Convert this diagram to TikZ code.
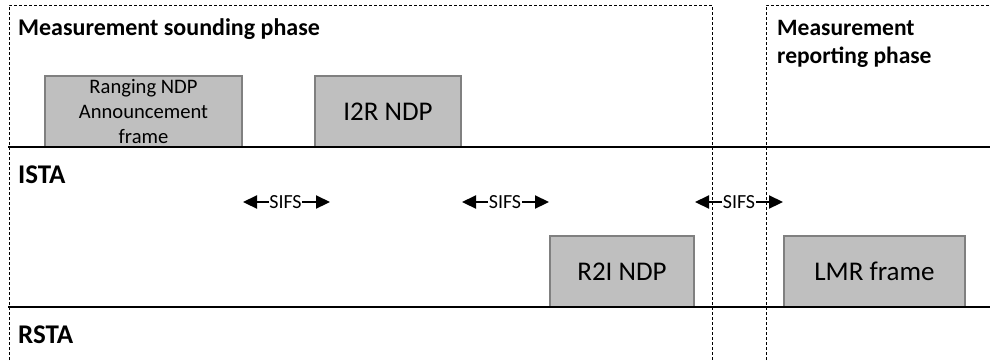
\documentclass[tikz,border=0pt]{standalone}
\usepackage{fontspec}
\setmainfont{Carlito}
\usetikzlibrary{arrows.meta}
\begin{document}
\begin{tikzpicture}
  [ x=1pt, y=-1pt,
    frm/.style={draw=black!50, fill=black!25, line width=2pt, inner sep=0pt,
    font=\fontsize{27}{33}\selectfont},
    phase/.style={line width=0.8pt, dash pattern=on 3pt off 2pt},
    sta/.style={line width=2pt},
    gap/.style={line width=2.2pt, -{Triangle[length=14pt,width=13pt]}},
    lbl/.style={anchor=base west, inner sep=0pt, font=\fontsize{27}{33}\selectfont\bfseries},
    sifs/.style={inner sep=0.5pt, font=\fontsize{20}{24}\selectfont}
  ]
  \useasboundingbox (0,0) rectangle (990,360);

  % frames
  \node (ranging) at (143.5,111.5) [frm, minimum width=197, minimum height=71,
    align=center, font=\fontsize{20.6}{24.8}\selectfont]
    {Ranging NDP\\Announcement\\frame};
  \node (i2r) at (388,111.5) [frm, minimum width=146, minimum height=71] {I2R NDP};
  \node (r2i) at (622,271.5) [frm, minimum width=144, minimum height=71] {R2I NDP};
  \node (lmr) at (874.5,271.5) [frm, minimum width=181, minimum height=71] {LMR frame};

  % phases
  \draw [phase] (9,360) -- (9,5) -- (712,5) -- (712,360);
  \draw [phase] (766,360) -- (766,5) -- (990,5);

  % stations
  \draw [sta] (8,147) -- (990,147);
  \draw [sta] (8,307) -- (990,307);

  \node (sound) at (18,35) [lbl, font=\fontsize{24}{29}\selectfont\bfseries]
    {Measurement sounding phase};
  \node (report) at (777,36) [lbl, anchor=north west, yshift=16pt, align=left,
    font=\fontsize{23.5}{28.5}\selectfont\bfseries]
    {Measurement\\reporting phase};
  \node (ista) at (18,183) [lbl] {ISTA};
  \node (rsta) at (18,343) [lbl] {RSTA};

  % SIFS gaps
  \node (s1) at (285.5,202) [sifs] {SIFS};
  \node (s2) at (505,202) [sifs] {SIFS};
  \node (s3) at (739,202) [sifs] {SIFS};
  \coordinate (s1r) at (330,202);

  \draw [gap] (s1) -- (ranging.east |- s1);
  \draw [gap] (s1) -- (s1r);
  \draw [gap] (s2) -- (i2r.east |- s2);
  \draw [gap] (s2) -- (r2i.west |- s2);
  \draw [gap] (s3) -- (r2i.east |- s3);
  \draw [gap] (s3) -- (lmr.west |- s3);
\end{tikzpicture}
\end{document}
